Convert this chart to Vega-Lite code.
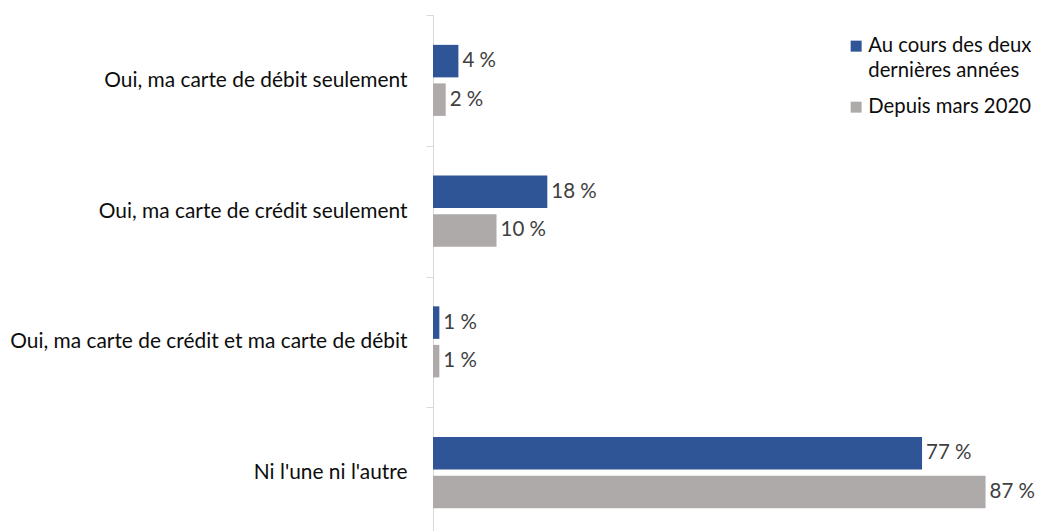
{
  "$schema": "https://vega.github.io/schema/vega-lite/v6.json",
  "autosize": {"type": "none"},
  "width": 604,
  "height": 516,
  "padding": {"left": 433, "top": 15, "right": 0, "bottom": 0},
  "background": "white",
  "config": {"view": {"stroke": null}, "font": "Lato"},
  "data": {
    "values": [
      {"cat": "Oui, ma carte de débit seulement", "serie": "Au cours des deux dernières années", "pct": 4},
      {"cat": "Oui, ma carte de débit seulement", "serie": "Depuis mars 2020", "pct": 2},
      {"cat": "Oui, ma carte de crédit seulement", "serie": "Au cours des deux dernières années", "pct": 18},
      {"cat": "Oui, ma carte de crédit seulement", "serie": "Depuis mars 2020", "pct": 10},
      {"cat": "Oui, ma carte de crédit et ma carte de débit", "serie": "Au cours des deux dernières années", "pct": 1},
      {"cat": "Oui, ma carte de crédit et ma carte de débit", "serie": "Depuis mars 2020", "pct": 1},
      {"cat": "Ni l'une ni l'autre", "serie": "Au cours des deux dernières années", "pct": 77},
      {"cat": "Ni l'une ni l'autre", "serie": "Depuis mars 2020", "pct": 87}
    ]
  },
  "transform": [{"calculate": "datum.pct + ' %'", "as": "label"}],
  "encoding": {
    "y": {
      "field": "cat", "type": "nominal", "sort": null,
      "scale": {"paddingInner": 0, "paddingOuter": 0, "range": [0, 523]},
      "axis": {
        "title": null, "domainColor": "#D9D9D9", "tickColor": "#D9D9D9", "tickSize": 7,
        "tickBand": "extent", "labelPadding": 19, "labelFontSize": 20.9, "labelColor": "#0d0d0d",
        "labelLimit": 430, "labelFont": "Lato"
      }
    },
    "yOffset": {
      "field": "serie", "type": "nominal", "sort": null,
      "scale": {"paddingInner": 0.156, "paddingOuter": 0.775}
    },
    "x": {
      "field": "pct", "type": "quantitative",
      "scale": {"domain": [0, 95.1], "nice": false, "zero": true},
      "axis": null
    }
  },
  "layer": [
    {
      "mark": {"type": "bar"},
      "encoding": {
        "color": {
          "field": "serie", "type": "nominal", "sort": null,
          "scale": {"domain": ["Au cours des deux dernières années", "Depuis mars 2020"], "range": ["#2F5597", "#AEAAAA"]},
          "legend": {
            "title": null, "orient": "none", "legendX": 413, "legendY": 21,
            "symbolType": "square", "symbolSize": 121, "symbolStrokeWidth": 0,
            "labelFontSize": 20.3, "labelColor": "#0d0d0d", "labelFont": "Lato",
            "labelLimit": 300, "labelOffset": 2, "rowPadding": 15,
            "labelExpr": "datum.label == 'Au cours des deux dernières années' ? ['Au cours des deux', 'dernières années'] : datum.label",
            "encode": {"labels": {"update": {"lineHeight": {"value": 25}}}}
          }
        }
      }
    },
    {
      "mark": {"type": "text", "align": "left", "baseline": "middle", "dx": 4, "fontSize": 20.5, "color": "#404040", "font": "Lato"},
      "encoding": {"text": {"field": "label", "type": "nominal"}}
    }
  ]
}
